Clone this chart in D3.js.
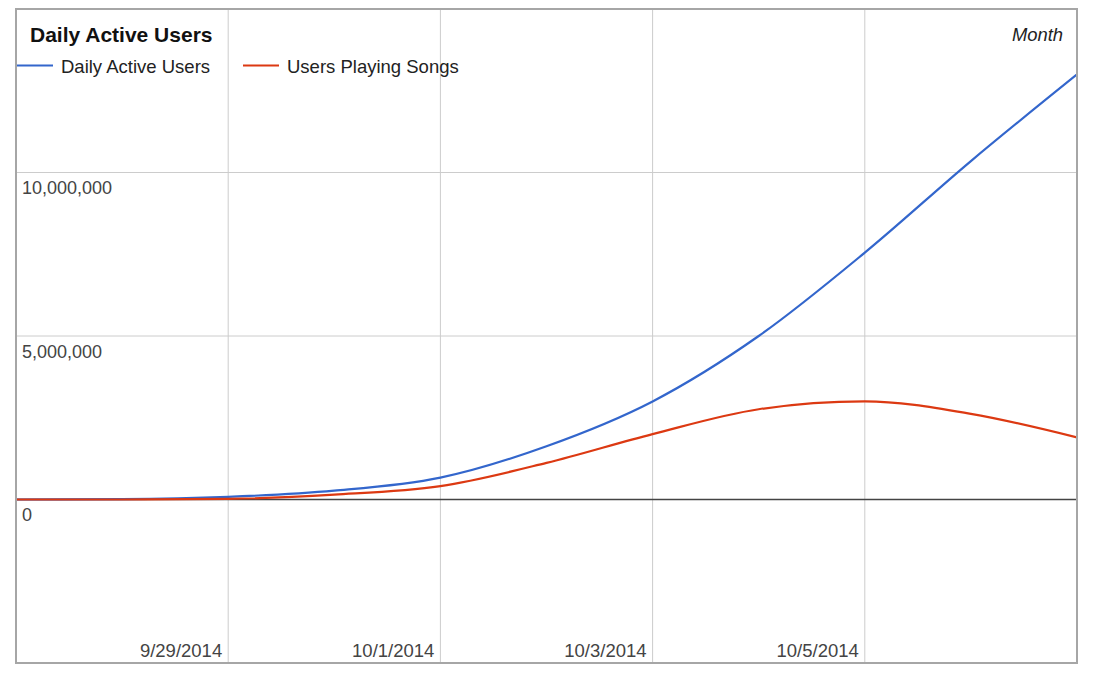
<!DOCTYPE html>
<html>
<head>
<meta charset="utf-8">
<script src="https://cdn.jsdelivr.net/npm/d3@7"></script>
<style>
  html, body { margin: 0; padding: 0; background: #fff; }
  svg { display: block; font-family: "Liberation Sans", Arial, sans-serif; }
</style>
</head>
<body>
<svg id="chart" width="1100" height="674"></svg>
<script>
// ---- data ----
const dates = ["2014-09-27","2014-09-28","2014-09-29","2014-09-30","2014-10-01","2014-10-02",
               "2014-10-03","2014-10-04","2014-10-05","2014-10-06","2014-10-07"];
const dailyActiveUsers = [0, 10000, 80000, 270000, 670000, 1630000, 3000000, 5000000, 7550000, 10350000, 13000000];
const usersPlayingSongs = [0, 0, 20000, 150000, 410000, 1120000, 2000000, 2760000, 3000000, 2620000, 1900000];
const seriesNames = ["Daily Active Users", "Users Playing Songs"];
const seriesColors = ["#3366cc", "#dc3912"];
const xTickDates = ["2014-09-29", "2014-10-01", "2014-10-03", "2014-10-05"];
const yGridValues = [5000000, 10000000];
const yLabelValues = [0, 5000000, 10000000];
const chartTitle = "Daily Active Users";
const xAxisTitle = "Month";

const parse = d3.timeParse("%Y-%m-%d");
const fmtDate = d3.timeFormat("%-m/%-d/%Y");

const svg = d3.select("#chart");
const L = 16, R = 1077, T = 9, B = 663;

const x = d3.scaleTime()
  .domain([parse("2014-09-27"), parse("2014-10-07")])
  .range([L, R]);
const y = d3.scaleLinear()
  .domain([-5000000, 15000000])
  .range([B, T]);

// grid
const g = svg.append("g");
g.selectAll("line.vg").data(xTickDates).enter().append("line")
  .attr("x1", d => x(parse(d))).attr("x2", d => x(parse(d)))
  .attr("y1", T).attr("y2", B)
  .attr("stroke", "#cccccc").attr("stroke-width", 1);
g.selectAll("line.hg").data(yGridValues).enter().append("line")
  .attr("x1", L).attr("x2", R)
  .attr("y1", d => y(d)).attr("y2", d => y(d))
  .attr("stroke", "#cccccc").attr("stroke-width", 1);

// y labels
g.selectAll("text.yl").data(yLabelValues).enter().append("text")
  .attr("x", 22).attr("y", d => y(d) + 21.5)
  .attr("font-size", 18).attr("fill", "#444")
  .text(d => d3.format(",")(d));

// x labels
g.selectAll("text.xl").data(xTickDates).enter().append("text")
  .attr("x", d => x(parse(d)) - 6).attr("y", 656.5)
  .attr("text-anchor", "end")
  .attr("font-size", 18.5).attr("fill", "#444")
  .text(d => fmtDate(parse(d)));

// zero baseline
g.append("line")
  .attr("x1", L).attr("x2", R).attr("y1", y(0)).attr("y2", y(0))
  .attr("stroke", "#444").attr("stroke-width", 1.5);

// lines
const line = d3.line()
  .x((d, i) => x(parse(dates[i])))
  .y(d => y(d))
  .curve(d3.curveMonotoneX);

svg.append("defs").append("clipPath").attr("id", "clip")
  .append("rect").attr("x", L).attr("y", T).attr("width", R - L).attr("height", B - T);

const series = [dailyActiveUsers, usersPlayingSongs];
svg.append("g").attr("clip-path", "url(#clip)")
  .selectAll("path").data(series).enter().append("path")
  .attr("d", d => line(d))
  .attr("fill", "none")
  .attr("stroke", (d, i) => seriesColors[i])
  .attr("stroke-width", 2.2);

// frame
svg.append("rect")
  .attr("x", L).attr("y", T).attr("width", R - L).attr("height", B - T)
  .attr("fill", "none").attr("stroke", "#a6a6a6").attr("stroke-width", 2);

// title
svg.append("text").attr("x", 30).attr("y", 41.5)
  .attr("font-size", 21).attr("font-weight", "bold").attr("fill", "#111")
  .text(chartTitle);

// x axis title
svg.append("text").attr("x", 1063).attr("y", 40.5)
  .attr("text-anchor", "end").attr("font-size", 18.4).attr("font-style", "italic")
  .attr("fill", "#222").text(xAxisTitle);

// legend
const legendX = [17, 243];
const leg = svg.append("g").selectAll("g").data(seriesNames).enter().append("g");
leg.append("line")
  .attr("x1", (d, i) => legendX[i]).attr("x2", (d, i) => legendX[i] + 36)
  .attr("y1", 65.5).attr("y2", 65.5)
  .attr("stroke", (d, i) => seriesColors[i]).attr("stroke-width", 2.2);
leg.append("text")
  .attr("x", (d, i) => legendX[i] + 44).attr("y", 72.5)
  .attr("font-size", 18.5).attr("fill", "#222")
  .text(d => d);
</script>
</body>
</html>
